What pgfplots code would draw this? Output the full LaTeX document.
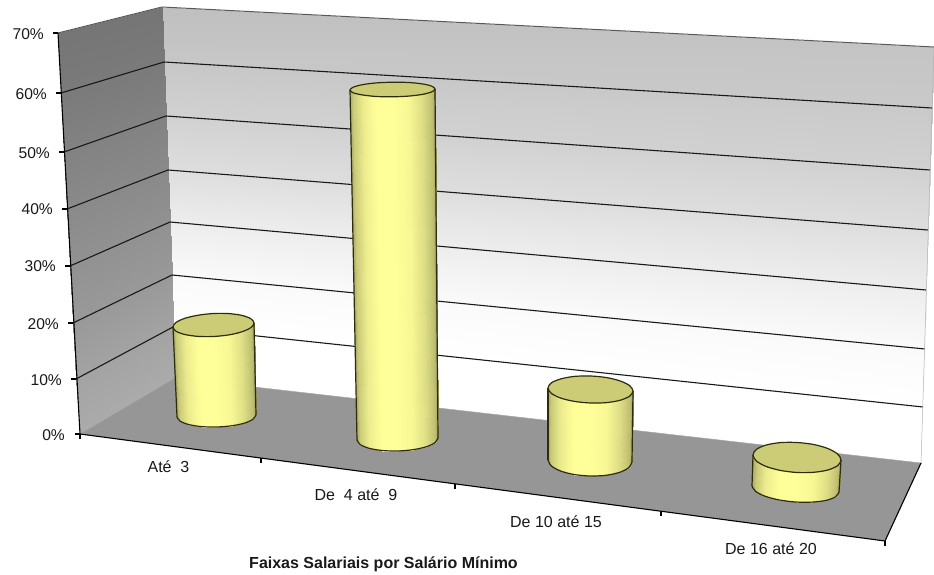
\documentclass[border=0pt]{standalone}
\usepackage{pgfplots}
\pgfplotsset{compat=1.18}
\usepackage{fontspec}
\setmainfont{Liberation Sans}
\definecolor{cyltop}{RGB}{204,204,118}
\definecolor{cyledge}{RGB}{45,45,12}
\definecolor{txt}{RGB}{25,25,25}
\tikzset{lab/.style={font=\fontsize{16}{18}\selectfont,text=txt},
 ylab/.style={font=\fontsize{15.6}{18}\selectfont,text=txt,anchor=east,inner sep=0}}
\pgfplotsset{
 colormap={wall}{gray(0cm)=(0); gray(1cm)=(1)},
 colormap={cyl}{rgb255(0cm)=(150,150,90); rgb255(1cm)=(255,255,153)},
 cylside/.style={surf,shader=interp,mesh/cols=9,colormap name=cyl,point meta=explicit},
 wallp/.style={surf,shader=interp,mesh/cols=2,colormap name=wall,point meta=explicit},
 gline/.style={draw=black!90,line width=1.1pt,no markers},
 axln/.style={draw=black,line width=1.1pt,no markers},
 cyledge/.style={draw=cyledge,line width=1.2pt,no markers},
}
\begin{document}
\begin{tikzpicture}
\begin{axis}[width=934pt,height=575pt,scale only axis,xmin=0,xmax=934,ymin=0,ymax=575,
 y dir=reverse,hide axis,clip=true,point meta min=0,point meta max=1]
\path[use as bounding box] (axis cs:0,0) rectangle (axis cs:934,575);
% back wall
\addplot[wallp] table[meta=m]{
x y m
162 7 0.75
934 47 0.77
164 62 0.78
932 108 0.79
166 116 0.82
930 170 0.82
168 170 0.87
928 230 0.87
170 222 0.93
926 290 0.93
172 275 0.98
925 349 0.98
173 327 1
923 407 1
175 378 1
921 463 1
};
% left wall
\addplot[wallp] table[meta=m]{
x y m
58 33 0.46
162 7 0.46
61 93 0.48
164 62 0.48
64 152 0.51
166 116 0.51
67 209 0.54
168 170 0.54
70 266 0.57
170 222 0.57
73 323 0.6
172 275 0.6
76 379 0.64
173 327 0.64
80 434 0.67
175 378 0.67
};
% floor
\addplot[draw=none,fill=black!41,no markers] coordinates {(80,434) (175,378) (921,463) (885,541)} --cycle;
% grid on left wall and back wall
\addplot[gline] coordinates {(61,93) (164,62) (932,108)};
\addplot[gline] coordinates {(64,152) (166,116) (930,170)};
\addplot[gline] coordinates {(67,209) (168,170) (928,230)};
\addplot[gline] coordinates {(70,266) (170,222) (926,290)};
\addplot[gline] coordinates {(73,323) (172,275) (925,349)};
\addplot[gline] coordinates {(76,379) (173,327) (923,407)};
\addplot[draw=black!65,line width=1pt,no markers] coordinates {(58,33) (162,7) (934,47)};
\addplot[draw=black!35,line width=0.5pt,no markers] coordinates {(80,434) (175,378) (921,463)};
\addplot[draw=black!30,line width=0.5pt,no markers] coordinates {(934,47) (921,463)};
% axes and ticks
\addplot[axln] coordinates {(58,33) (80,434)};
\addplot[axln] coordinates {(80,434) (885,541) (921,463)};
\addplot[axln] coordinates {(53,33) (58,33)};
\addplot[axln] coordinates {(56,93) (61,93)};
\addplot[axln] coordinates {(59,152) (64,152)};
\addplot[axln] coordinates {(62,209) (67,209)};
\addplot[axln] coordinates {(65,266) (70,266)};
\addplot[axln] coordinates {(68,323) (73,323)};
\addplot[axln] coordinates {(71,379) (76,379)};
\addplot[axln] coordinates {(75,434) (80,434)};
\addplot[axln] coordinates {(80,434) (80,439)};
\addplot[axln] coordinates {(261,458) (261,463)};
\addplot[axln] coordinates {(455,484) (455,489)};
\addplot[axln] coordinates {(661,511) (661,516)};
\addplot[axln] coordinates {(885,541) (885,546)};
% cylinder 1
\addplot[cylside] table[meta=m]{
x y m
173 327 0.2
176.2 331.3 0.5
185.2 334.6 0.82
198.1 336.4 1
213.5 336.5 1
228.9 334.9 0.92
241.9 331.8 0.68
250.8 327.7 0.38
254 323 0.05
177 417 0.2
180.2 421.2 0.5
188.9 424.6 0.82
201.5 426.6 1
216.5 427 1
231.5 425.8 0.92
244.2 423.2 0.68
252.8 419.4 0.38
256 415 0.05
};
\addplot[cyledge] coordinates {(173,327) (177,417)};
\addplot[cyledge] coordinates {(254,323) (256,415)};
\addplot[cyledge,smooth] coordinates {(177,417) (180.2,421.2) (188.9,424.6) (201.5,426.6) (216.5,427) (231.5,425.8) (244.2,423.2) (252.8,419.4) (256,415)};
\addplot[cyledge,fill=cyltop,smooth cycle] coordinates {(173,327) (176.2,331.3) (185.2,334.6) (198.1,336.4) (213.5,336.5) (228.9,334.9) (241.9,331.8) (250.8,327.7) (254,323) (250.8,318.7) (241.9,315.4) (228.9,313.6) (213.5,313.5) (198.1,315.2) (185.2,318.2) (176.2,322.3)};
% cylinder 2
\addplot[cylside] table[meta=m]{
x y m
350 90 0.2
353.4 92.9 0.5
362.8 95 0.82
376.4 96.5 1
392.5 96.8 1
408.7 96.1 0.92
422.3 94.4 0.68
431.6 91.9 0.38
435 89 0.05
357 440 0.2
360.2 444.6 0.5
369.2 448.3 0.82
382.1 450.5 1
397.5 451 1
412.9 449.7 0.92
425.9 446.9 0.68
434.8 442.8 0.38
438 438 0.05
};
\addplot[cyledge] coordinates {(350,90) (357,440)};
\addplot[cyledge] coordinates {(435,89) (438,438)};
\addplot[cyledge,smooth] coordinates {(357,440) (360.2,444.6) (369.2,448.3) (382.1,450.5) (397.5,451) (412.9,449.7) (425.9,446.9) (434.8,442.8) (438,438)};
\addplot[cyledge,fill=cyltop,smooth cycle] coordinates {(350,90) (353.4,92.9) (362.8,95) (376.4,96.5) (392.5,96.8) (408.7,96.1) (422.3,94.4) (431.6,91.9) (435,89) (431.6,86.1) (422.3,83.9) (408.7,82.5) (392.5,82.2) (376.4,82.9) (362.8,84.6) (353.4,87.1)};
% cylinder 3
\addplot[cylside] table[meta=m]{
x y m
548 388 0.2
551.4 393.4 0.5
560.8 398.1 0.82
574.4 401.4 1
590.5 403 1
606.7 402.6 0.92
620.3 400.2 0.68
629.6 396.2 0.38
633 391 0.05
548 460 0.2
551.4 466 0.5
560.6 471 0.82
574 474.5 1
590 476 1
606 475.3 0.92
619.4 472.4 0.68
628.6 467.8 0.38
632 462 0.05
};
\addplot[cyledge] coordinates {(548,388) (548,460)};
\addplot[cyledge] coordinates {(633,391) (632,462)};
\addplot[cyledge,smooth] coordinates {(548,460) (551.4,466) (560.6,471) (574,474.5) (590,476) (606,475.3) (619.4,472.4) (628.6,467.8) (632,462)};
\addplot[cyledge,fill=cyltop,smooth cycle] coordinates {(548,388) (551.4,393.4) (560.8,398.1) (574.4,401.4) (590.5,403) (606.7,402.6) (620.3,400.2) (629.6,396.2) (633,391) (629.6,385.6) (620.3,381) (606.7,377.6) (590.5,376) (574.4,376.4) (560.8,378.9) (551.4,382.8)};
% cylinder 4
\addplot[cylside] table[meta=m]{
x y m
753 455 0.2
756.5 461.1 0.5
766.2 466.5 0.82
780.3 470.4 1
797 472.5 1
813.7 472.3 0.92
827.8 470 0.68
837.5 465.7 0.38
841 460 0.05
752 486 0.2
755.5 491.3 0.5
765 496.2 0.82
779 499.9 1
795.5 502 1
812 502.1 0.92
826 500.4 0.68
835.5 496.9 0.38
839 492 0.05
};
\addplot[cyledge] coordinates {(753,455) (752,486)};
\addplot[cyledge] coordinates {(841,460) (839,492)};
\addplot[cyledge,smooth] coordinates {(752,486) (755.5,491.3) (765,496.2) (779,499.9) (795.5,502) (812,502.1) (826,500.4) (835.5,496.9) (839,492)};
\addplot[cyledge,fill=cyltop,smooth cycle] coordinates {(753,455) (756.5,461.1) (766.2,466.5) (780.3,470.4) (797,472.5) (813.7,472.3) (827.8,470) (837.5,465.7) (841,460) (837.5,453.9) (827.8,448.5) (813.7,444.5) (797,442.5) (780.3,442.6) (766.2,445) (756.5,449.3)};
% labels
\node[ylab] at (axis cs:44,34) {70\%};
\node[ylab] at (axis cs:47,94) {60\%};
\node[ylab] at (axis cs:50,153) {50\%};
\node[ylab] at (axis cs:53,209) {40\%};
\node[ylab] at (axis cs:56,266) {30\%};
\node[ylab] at (axis cs:59,324) {20\%};
\node[ylab] at (axis cs:62,380) {10\%};
\node[ylab] at (axis cs:65,435) {0\%};
\node[lab,inner sep=0] at (axis cs:168.5,467) {Até\ \ 3};
\node[lab,inner sep=0] at (axis cs:356,495) {De\ \ 4 até\ \ 9};
\node[lab,inner sep=0] at (axis cs:556,522) {De 10 até 15};
\node[lab,inner sep=0] at (axis cs:771,549) {De 16 até 20};
\node[font=\fontsize{16}{18}\selectfont\bfseries,text=txt,inner sep=0] at (axis cs:383.5,564) {Faixas Salariais por Salário Mínimo};
\end{axis}
\end{tikzpicture}
\end{document}
